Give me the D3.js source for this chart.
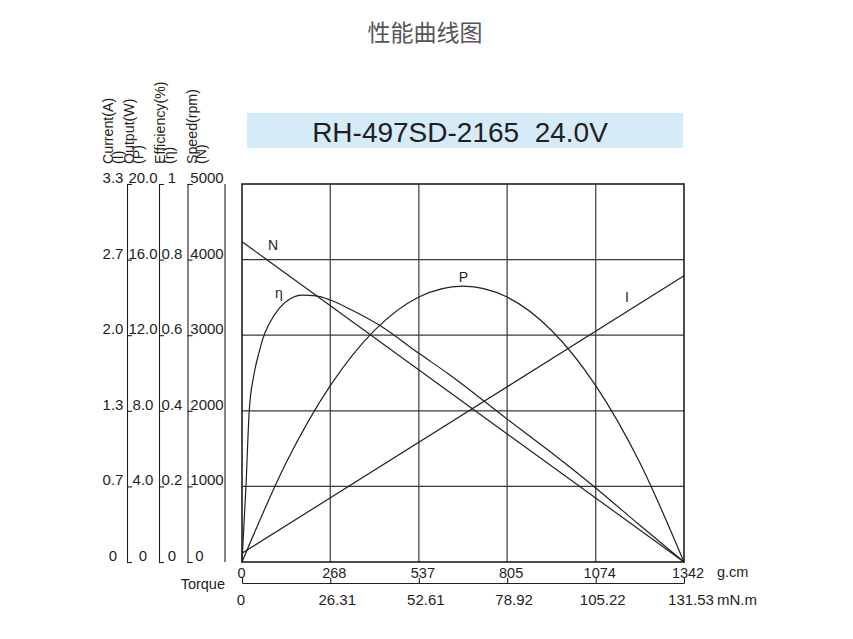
<!DOCTYPE html>
<html><head><meta charset="utf-8">
<script src="https://cdn.jsdelivr.net/npm/d3@7"></script>
<style>
html,body{margin:0;padding:0;background:#fff;}
svg{display:block;font-family:"Liberation Sans",Arial,sans-serif;}
</style>
</head><body>
<svg id="chart" width="853" height="639"></svg>
<script>
// ---- data ----
const torqueTicks = [0, 268, 537, 805, 1074, 1342];
const torqueLabelsGcm = ["0", "268", "537", "805", "1074", "1342"];
const torqueLabelsMNm = ["0", "26.31", "52.61", "78.92", "105.22", "131.53"];

const currentTickVals = [0, 0.66, 1.32, 1.98, 2.64, 3.3];
const currentTickLabels = ["0", "0.7", "1.3", "2.0", "2.7", "3.3"];
const outputTickVals = [0, 4, 8, 12, 16, 20];
const outputTickLabels = ["0", "4.0", "8.0", "12.0", "16.0", "20.0"];
const effTickVals = [0, 0.2, 0.4, 0.6, 0.8, 1];
const effTickLabels = ["0", "0.2", "0.4", "0.6", "0.8", "1"];
const speedTickVals = [0, 1000, 2000, 3000, 4000, 5000];
const speedTickLabels = ["0", "1000", "2000", "3000", "4000", "5000"];

const speedT = [0, 1342];
const speedVals = [4237, 0];
const currentT = [0, 1342];
const currentVals = [0.076, 2.50];
const outputT = [0, 134, 268, 403, 537, 671, 805, 940, 1074, 1208, 1342];
const outputVals = [0, 5.25, 9.33, 12.27, 14.02, 14.6, 14.02, 12.25, 9.33, 5.25, 0];
const effT = [0, 12, 22, 35, 52, 63, 83, 113, 144, 184, 225, 268, 330, 420, 537, 626, 805, 940, 1074, 1208, 1342];
const effVals = [0, 0.20, 0.40, 0.49, 0.555, 0.59, 0.631, 0.671, 0.695, 0.706, 0.704, 0.693, 0.668, 0.625, 0.552, 0.498, 0.378, 0.289, 0.196, 0.097, 0];

const titleText = "性能曲线图";
const modelText = "RH-497SD-2165  24.0V";

// ---- layout ----
const INK = "#231f20";
const svg = d3.select("#chart");
const X0 = 242, X1 = 684, Y0 = 562, Y1 = 184;

const x = d3.scaleLinear().domain([0, 1342]).range([X0, X1]);
const yCur = d3.scaleLinear().domain([0, 3.3]).range([Y0, Y1]);
const yOut = d3.scaleLinear().domain([0, 20]).range([Y0, Y1]);
const yEff = d3.scaleLinear().domain([0, 1]).range([Y0, Y1]);
const ySpd = d3.scaleLinear().domain([0, 5000]).range([Y0, Y1]);

// title
svg.append("text").attr("x", 425).attr("y", 40.5).attr("text-anchor", "middle")
  .attr("font-family", "'Noto Sans CJK SC', sans-serif").attr("font-size", 23)
  .attr("fill", "#555555").text(titleText);

// model banner
svg.append("rect").attr("x", 247).attr("y", 113).attr("width", 436).attr("height", 35).attr("fill", "#d5ebf8");
svg.append("text").attr("x", 460).attr("y", 141.5).attr("text-anchor", "middle")
  .attr("font-size", 28).attr("fill", INK).style("white-space", "pre")
  .attr("xml:space", "preserve").text(modelText);

// grid
const grid = svg.append("g").attr("stroke", "#3c3838").attr("stroke-width", 1.2);
torqueTicks.slice(1, -1).forEach(t => {
  grid.append("line").attr("x1", x(t)).attr("x2", x(t)).attr("y1", Y1).attr("y2", Y0);
});
speedTickVals.slice(1, -1).forEach(v => {
  grid.append("line").attr("x1", X0).attr("x2", X1).attr("y1", ySpd(v)).attr("y2", ySpd(v));
});
svg.append("rect").attr("x", X0).attr("y", Y1).attr("width", X1 - X0).attr("height", Y0 - Y1)
  .attr("fill", "none").attr("stroke", INK).attr("stroke-width", 1.6);

// curves
const curves = svg.append("g").attr("fill", "none").attr("stroke", INK).attr("stroke-width", 1.2);
function drawSeries(ts, vs, yScale, curve) {
  const line = d3.line().x(d => x(d[0])).y(d => yScale(d[1])).curve(curve);
  curves.append("path").attr("d", line(ts.map((t, i) => [t, vs[i]])));
}
drawSeries(speedT, speedVals, ySpd, d3.curveLinear);
drawSeries(currentT, currentVals, yCur, d3.curveLinear);
drawSeries(outputT, outputVals, yOut, d3.curveMonotoneX);
drawSeries(effT, effVals, yEff, d3.curveMonotoneX);

// curve labels
const lab = svg.append("g").attr("font-size", 14).attr("fill", INK);
lab.append("text").attr("x", 273).attr("y", 250).attr("text-anchor", "middle").text("N");
lab.append("text").attr("x", 279).attr("y", 298).attr("text-anchor", "middle").text("η");
lab.append("text").attr("x", 463.5).attr("y", 281.5).attr("text-anchor", "middle").text("P");
lab.append("text").attr("x", 627).attr("y", 301.5).attr("text-anchor", "middle").text("I");

// left axes
function styleAxis(g) {
  g.selectAll("path,line").attr("stroke", INK).attr("stroke-width", 1.1);
  g.selectAll("text").attr("fill", INK).attr("font-size", 15)
    .attr("font-family", "'Liberation Sans',Arial,sans-serif").attr("dy", null);
}
const L1 = 127, L2 = 159, L3 = 187.5, L4 = 225;
// current labels (left of line 1)
const gCur = svg.append("g").attr("transform", `translate(${L1},0)`)
  .call(d3.axisLeft(yCur).tickValues(currentTickVals).tickFormat((d, i) => currentTickLabels[i]).tickSize(0));
gCur.select(".domain").remove();
styleAxis(gCur);
gCur.selectAll("text").attr("x", -14).attr("y", -1.5).attr("text-anchor", "middle");
// output (line 1)
const gOut = svg.append("g").attr("transform", `translate(${L1},0)`)
  .call(d3.axisRight(yOut).tickValues(outputTickVals).tickFormat((d, i) => outputTickLabels[i]).tickSizeInner(5).tickSizeOuter(5));
styleAxis(gOut);
gOut.selectAll("text").attr("x", 16).attr("y", -1.5).attr("text-anchor", "middle");
// efficiency (line 2)
const gEff = svg.append("g").attr("transform", `translate(${L2},0)`)
  .call(d3.axisRight(yEff).tickValues(effTickVals).tickFormat((d, i) => effTickLabels[i]).tickSizeInner(5).tickSizeOuter(5));
styleAxis(gEff);
gEff.selectAll("text").attr("x", 13).attr("y", -1.5).attr("text-anchor", "middle");
// speed (line 3)
const gSpd = svg.append("g").attr("transform", `translate(${L3},0)`)
  .call(d3.axisRight(ySpd).tickValues(speedTickVals).tickFormat((d, i) => speedTickLabels[i]).tickSizeInner(5).tickSizeOuter(5));
styleAxis(gSpd);
gSpd.selectAll("text").attr("x", 19.5).attr("y", -1.5).attr("text-anchor", "middle");
gSpd.selectAll("text").filter((d, i) => i === 0).attr("x", 12);
// plain line 4
svg.append("line").attr("x1", L4).attr("x2", L4).attr("y1", Y1).attr("y2", Y0).attr("stroke", INK).attr("stroke-width", 1.1);

// rotated axis titles
const titles = [
  ["Current(A)", 113], ["(I)", 122.5],
  ["Output(W)", 134], ["(P)", 143],
  ["Efficiency(%)", 165], ["(η)", 174],
  ["Speed(rpm)", 197], ["(N)", 206]
];
const tg = svg.append("g").attr("font-size", 14.2).attr("fill", INK);
titles.forEach(([t, bx]) => {
  tg.append("text").attr("x", bx).attr("y", 164)
    .attr("transform", `rotate(-90,${bx},164)`).text(t);
});

// bottom axes
const BY = 583;
const gB = svg.append("g").attr("transform", `translate(0,${BY})`)
  .call(d3.axisTop(x).tickValues(torqueTicks).tickFormat((d, i) => torqueLabelsGcm[i]).tickSizeInner(5).tickSizeOuter(0));
styleAxis(gB);
gB.selectAll("text").attr("font-size", 14.5).attr("y", -5).attr("dx", 3.5).attr("text-anchor", "middle");
const gB2 = svg.append("g").attr("transform", `translate(0,${BY})`)
  .call(d3.axisBottom(x).tickValues(torqueTicks).tickFormat((d, i) => torqueLabelsMNm[i]).tickSize(0));
gB2.select(".domain").remove();
styleAxis(gB2);
gB2.selectAll("text").attr("font-size", 15).attr("y", 22).attr("dx", 6.5).attr("text-anchor", "middle");
gB2.selectAll("text").filter((d, i) => i === 0).attr("dx", -1.5);
gB.selectAll("text").filter((d, i) => i === 0).attr("dx", -1);

const bl = svg.append("g").attr("fill", INK).attr("font-size", 14.5);
bl.append("text").attr("x", 225).attr("y", 589).attr("text-anchor", "end").text("Torque");
bl.append("text").attr("x", 717).attr("y", 577).text("g.cm");
bl.append("text").attr("x", 717).attr("y", 605).attr("font-size", 15).text("mN.m");
</script>
</body></html>
